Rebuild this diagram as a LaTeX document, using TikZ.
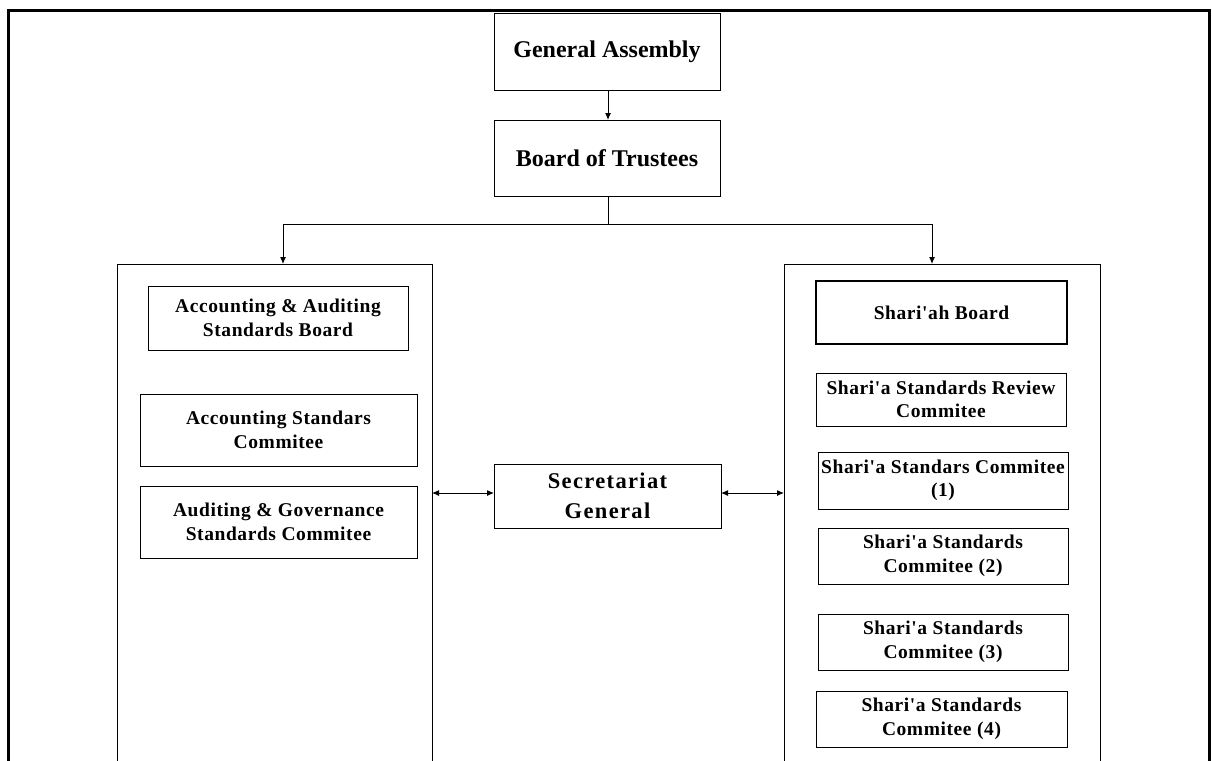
\documentclass[tikz,border=0pt]{standalone}
\usepackage{fontspec}
\setmainfont{Liberation Serif}[Ligatures=TeXOff]
\usetikzlibrary{arrows.meta}
\begin{document}
\begin{tikzpicture}[x=1pt,y=-1pt,
  box/.style={draw=black, line width=1pt, rectangle, inner sep=0pt, outer sep=0pt,
    align=center, font=\bfseries\addfontfeature{LetterSpace=3}\fontsize{19.5}{23.5}\selectfont},
  bigbox/.style={box, font=\bfseries\fontsize{24}{28}\selectfont},
  secbox/.style={box, font=\bfseries\addfontfeature{LetterSpace=6}\fontsize{22.5}{30}\selectfont},
  container/.style={draw=black, line width=1pt, rectangle, inner sep=0pt, outer sep=0pt,
    anchor=north west},
  link/.style={draw=black, line width=1pt},
  tip/.style={link, -{Latex[length=7pt,width=6pt]}},
  both/.style={link, {Latex[length=7pt,width=6pt]}-{Latex[length=7pt,width=6pt]}}]

\useasboundingbox (0,0) rectangle (1212,760);
\clip (0,0) rectangle (1212,760);

% outer frame, open at the bottom
\draw[line width=3pt] (8,780) -- (8,10.5) -- (1209,10.5) -- (1209,780);

% top of the hierarchy
\node[bigbox, minimum width=226pt, minimum height=76pt] (ga) at (607,52) {General Assembly};
\node[bigbox, minimum width=226pt, minimum height=76pt] (bot) at (607,158) {Board of Trustees};

% the two standards groups
\node[container, minimum width=315pt, minimum height=520pt] (left) at (117,264) {};
\node[container, minimum width=316pt, minimum height=520pt] (right) at (784,264) {};

% accounting and auditing side
\node[box, minimum width=260pt, minimum height=64pt] (aasb) at (278,318) {Accounting \& Auditing\\Standards Board};
\node[box, minimum width=277pt, minimum height=72pt] (asc) at (278.5,430) {Accounting Standars\\Commitee};
\node[box, minimum width=277pt, minimum height=72pt] (agsc) at (278.5,522) {Auditing \& Governance\\Standards Commitee};

% secretariat
\node[secbox, minimum width=227pt, minimum height=64pt] (sec) at (607.5,496) {Secretariat\\General};

% shari'a side
\node[box, line width=1.7pt, minimum width=251pt, minimum height=63pt] (sb) at (941.5,312.5) {Shari'ah Board};
\node[box, minimum width=250pt, minimum height=53pt] (ssrc) at (941,399.5) {Shari'a Standards Review\\Commitee};
\node[box, minimum width=250pt, minimum height=57pt] (ssc1) at (943,480.5) {Shari'a Standars Commitee\\(1)};
\node[box, minimum width=250pt, minimum height=56pt] (ssc2) at (943,556) {Shari'a Standards\\Commitee (2)};
\node[box, minimum width=250pt, minimum height=56pt] (ssc3) at (943,642) {Shari'a Standards\\Commitee (3)};
\node[box, minimum width=251pt, minimum height=56pt] (ssc4) at (941.5,719) {Shari'a Standards\\Commitee (4)};

% connectors
\draw[tip] ([xshift=1pt]ga.south) -- ([xshift=1pt]bot.north);
\draw[link] ([xshift=1pt]bot.south) -- ++(0,28) coordinate (split);
\draw[tip] (split) -| ([xshift=8.5pt]left.north);
\draw[tip] (split) -| ([xshift=-10pt]right.north);
\draw[both] ([yshift=3pt]sec.west -| left.east) -- ([yshift=3pt]sec.west);
\draw[both] ([yshift=3pt]sec.east) -- ([yshift=3pt]sec.east -| right.west);
\end{tikzpicture}
\end{document}
